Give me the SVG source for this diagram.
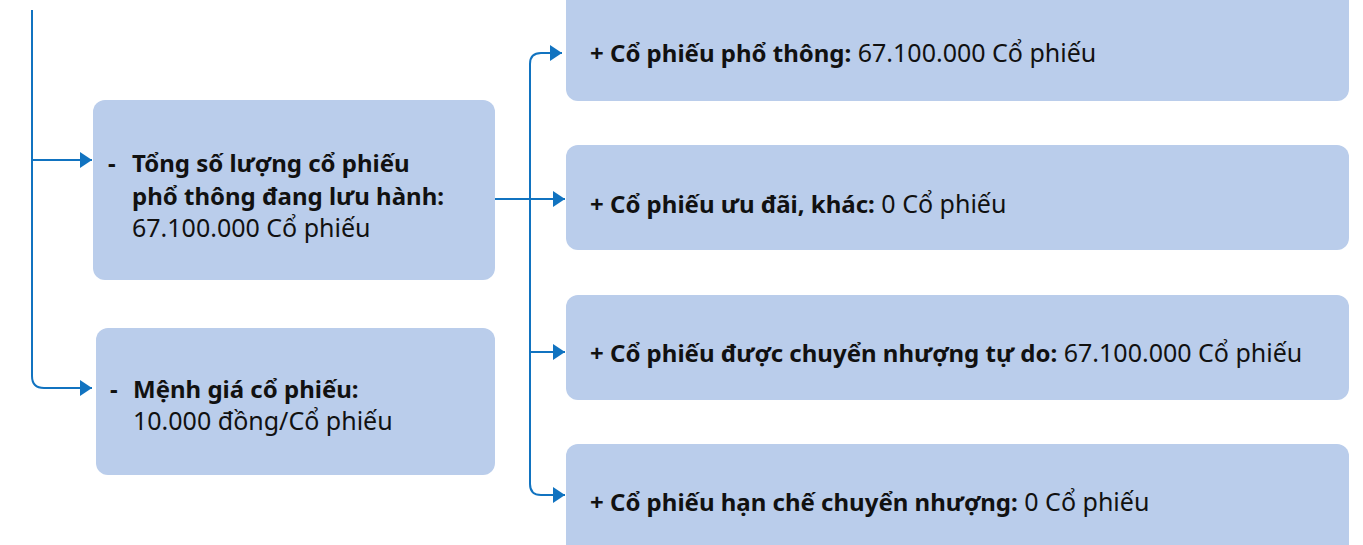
<svg xmlns="http://www.w3.org/2000/svg" width="1363" height="545" viewBox="0 0 1363 545">
<style>
.box{fill:#BACDEB}
.line{fill:none;stroke:#1173C0;stroke-width:2}
text{font-family:"Noto Sans","Open Sans",sans-serif;font-size:25px;fill:#111}
.b{font-weight:bold;font-size:24px}
</style>
<defs>
<marker id="arr" viewBox="0 0 12 16" refX="12" refY="8" markerWidth="12" markerHeight="16" markerUnits="userSpaceOnUse" orient="auto">
<path d="M0,0 L12,8 L0,16 Z" fill="#1173C0"/>
</marker>
</defs>
<rect width="1363" height="545" fill="#fff"/>
<g id="connectors">
<path class="line" d="M32,10 V160 H92" marker-end="url(#arr)"/>
<path class="line" d="M32,160 V376 Q32,388 44,388 H92" marker-end="url(#arr)"/>
<path class="line" d="M495,199 H565" marker-end="url(#arr)"/>
<path class="line" d="M530,199 V64 Q530,53 541,53 H562" marker-end="url(#arr)"/>
<path class="line" d="M530,199 V352 H565" marker-end="url(#arr)"/>
<path class="line" d="M530,352 V484 Q530,495 541,495 H565" marker-end="url(#arr)"/>
</g>
<g id="node-total">
<rect class="box" x="93" y="100" width="402" height="180" rx="12"/>
<text x="108" y="172" class="b">-</text>
<text x="132" y="172" class="b">Tổng số lượng cổ phiếu</text>
<text x="132" y="205" class="b">phổ thông đang lưu hành:</text>
<text x="132" y="237">67.100.000 Cổ phiếu</text>
</g>
<g id="node-par">
<rect class="box" x="96" y="328" width="399" height="147" rx="12"/>
<text x="110" y="398" class="b">-</text>
<text x="133" y="398" class="b">Mệnh giá cổ phiếu:</text>
<text x="133" y="430">10.000 đồng/Cổ phiếu</text>
</g>
<g id="node-common">
<rect class="box" x="566" y="-20" width="783" height="121" rx="12"/>
<text x="590" y="62"><tspan class="b">+ Cổ phiếu phổ thông:</tspan> 67.100.000 Cổ phiếu</text>
</g>
<g id="node-preferred">
<rect class="box" x="566" y="145" width="783" height="105" rx="12"/>
<text x="590" y="213"><tspan class="b">+ Cổ phiếu ưu đãi, khác:</tspan> 0 Cổ phiếu</text>
</g>
<g id="node-free">
<rect class="box" x="566" y="295" width="783" height="105" rx="12"/>
<text x="590" y="362"><tspan class="b">+ Cổ phiếu được chuyển nhượng tự do:</tspan> 67.100.000 Cổ phiếu</text>
</g>
<g id="node-restricted">
<rect class="box" x="566" y="444" width="783" height="121" rx="12"/>
<text x="590" y="511"><tspan class="b">+ Cổ phiếu hạn chế chuyển nhượng:</tspan> 0 Cổ phiếu</text>
</g>
</svg>
